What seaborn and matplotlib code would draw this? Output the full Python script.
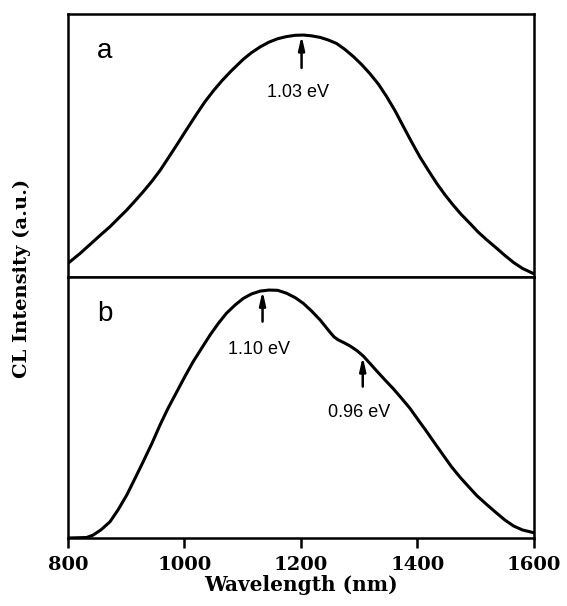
import numpy as np
import pandas as pd
import seaborn as sns
import matplotlib.pyplot as plt

# -------------------- Data --------------------

# panel a: CL spectrum, single broad band
wl_a = [800, 821, 843, 857, 872, 886, 901, 915, 929, 944, 958, 972, 987, 1004,
        1021, 1035, 1050, 1065, 1080, 1101, 1115, 1130, 1145, 1160, 1175, 1190,
        1204, 1218, 1233, 1247, 1261, 1275, 1290, 1304, 1318, 1333, 1347, 1362,
        1376, 1390, 1404, 1419, 1433, 1447, 1461, 1475, 1490, 1504, 1519, 1535,
        1550, 1565, 1580, 1600]
int_a = [0.052, 0.090, 0.134, 0.162, 0.191, 0.222, 0.255, 0.289, 0.324, 0.364,
         0.405, 0.452, 0.503, 0.562, 0.620, 0.666, 0.709, 0.748, 0.783, 0.828,
         0.853, 0.875, 0.893, 0.906, 0.914, 0.919, 0.920, 0.917, 0.911, 0.901,
         0.888, 0.866, 0.838, 0.808, 0.774, 0.733, 0.686, 0.630, 0.571, 0.513,
         0.457, 0.404, 0.356, 0.313, 0.274, 0.238, 0.204, 0.171, 0.141, 0.111,
         0.082, 0.055, 0.033, 0.012]

# panel b: main band plus shoulder
wl_b = [800, 832, 843, 857, 872, 886, 901, 915, 929, 944, 958, 972, 987, 1001,
        1015, 1030, 1044, 1058, 1072, 1087, 1101, 1115, 1130, 1145, 1160, 1175,
        1190, 1204, 1218, 1233, 1242, 1250, 1257, 1264, 1274, 1284, 1296, 1307,
        1318, 1330, 1344, 1358, 1372, 1387, 1401, 1416, 1430, 1444, 1458, 1473,
        1488, 1502, 1519, 1535, 1550, 1565, 1580, 1600]
int_b = [0.000, 0.002, 0.011, 0.032, 0.062, 0.108, 0.165, 0.228, 0.292, 0.362,
         0.433, 0.498, 0.561, 0.620, 0.676, 0.729, 0.778, 0.822, 0.861, 0.893,
         0.918, 0.935, 0.946, 0.950, 0.949, 0.938, 0.921, 0.899, 0.870, 0.835,
         0.810, 0.788, 0.770, 0.759, 0.748, 0.736, 0.718, 0.697, 0.670, 0.640,
         0.606, 0.573, 0.537, 0.497, 0.453, 0.407, 0.362, 0.318, 0.274, 0.233,
         0.196, 0.162, 0.128, 0.097, 0.069, 0.046, 0.031, 0.020]

# peak markers: (label, wavelength, arrow tail, arrow head, text y)
peaks_a = [('1.03 eV', 1201, 0.795, 0.918, 0.703)]
peaks_b = [('1.10 eV', 1134, 0.829, 0.947, 0.724),
           ('0.96 eV', 1306, 0.580, 0.695, 0.479)]

x_ticks = [800, 1000, 1200, 1400, 1600]


# -------------------- Plot --------------------

def draw_panel(ax, wl, inten, letter, peaks):
    df = pd.DataFrame({'wl': wl, 'cl': inten})
    sns.lineplot(data=df, x='wl', y='cl', ax=ax, color='black', lw=2.2)
    ax.set_xlim(800, 1600)
    ax.set_ylim(0, 1)
    ax.set_yticks([])
    ax.set_xlabel('')
    ax.set_ylabel('')
    for s in ax.spines.values():
        s.set_visible(True)
        s.set_linewidth(1.8)
        s.set_color('black')
    ax.text(863, 0.86, letter, fontsize=20, family='Liberation Sans',
            color='black', ha='center', va='center')
    for lab, x, tail, head, ty in peaks:
        ax.annotate('', xy=(x, head), xytext=(x, tail),
                    arrowprops=dict(arrowstyle='-|>,head_length=0.8,head_width=0.18',
                                    color='black', lw=1.8, shrinkA=0, shrinkB=0))
        ax.text(x - 6, ty, lab, fontsize=13, family='Liberation Sans',
                color='black', ha='center', va='center')


def main():
    sns.set_style('white')
    fig = plt.figure(figsize=(5.67, 6.06), dpi=100)
    ax_a = fig.add_axes([0.1199, 0.5429, 0.8219, 0.4340])
    ax_b = fig.add_axes([0.1199, 0.1122, 0.8219, 0.4307])

    draw_panel(ax_a, wl_a, int_a, 'a', peaks_a)
    draw_panel(ax_b, wl_b, int_b, 'b', peaks_b)

    ax_a.set_xticks([])
    ax_b.set_xticks(x_ticks)
    ax_b.set_xticklabels([str(t) for t in x_ticks], fontsize=14,
                         family='DejaVu Serif', fontweight='bold', color='black')
    ax_b.tick_params(axis='x', direction='out', length=7, width=1.8,
                     pad=6, bottom=True, color='black')
    ax_b.set_xlabel('Wavelength (nm)', fontsize=14.5, family='DejaVu Serif',
                    fontweight='bold', labelpad=1, color='black')

    fig.text(0.039, 0.541, 'CL Intensity (a.u.)', rotation=90, fontsize=14,
             family='DejaVu Serif', fontweight='bold', color='black',
             ha='center', va='center')

    fig.savefig('out.png', dpi=100)


if __name__ == '__main__':
    main()
